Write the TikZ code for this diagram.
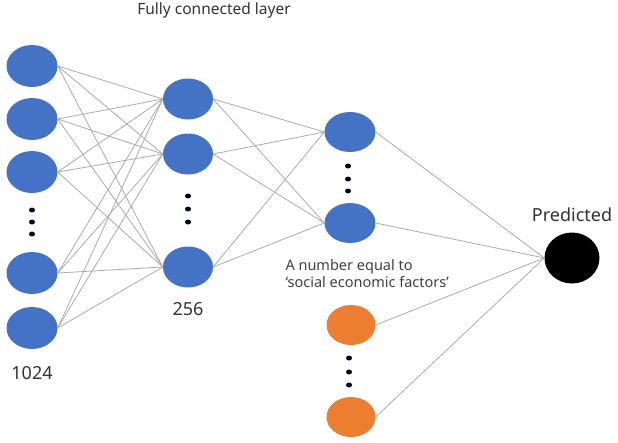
\documentclass[tikz,border=0pt]{standalone}
\usepackage{fontspec}
\setmainfont{Noto Sans}
\usetikzlibrary{shapes.geometric}
\definecolor{nblue}{HTML}{4472C4}
\definecolor{norange}{HTML}{ED7D31}
\definecolor{wire}{HTML}{ABABAB}
\begin{document}
\begin{tikzpicture}[x=1pt,y=-1pt,
  neuron/.style={ellipse,fill=nblue,draw=none,minimum width=51pt,minimum height=42pt,inner sep=0pt},
  oneuron/.style={neuron,fill=norange},
  outneuron/.style={ellipse,fill=black,minimum width=55pt,minimum height=51pt,inner sep=0pt},
  dotmark/.style={ellipse,fill=black!85!blue,minimum width=6pt,minimum height=5pt,inner sep=0pt},
  wireline/.style={draw=wire,line width=0.8pt},
  lbl/.style={font=\fontsize{18}{20}\selectfont,text=black!80},
  ttl/.style={font=\fontsize{15.5}{18}\selectfont,text=black!80},
  small/.style={font=\fontsize{14.5}{17}\selectfont,text=black!75,align=left}]
\useasboundingbox (0,0) rectangle (618,442);
\fill[white] (0,0) rectangle (618,442);
% layer 1
\node[neuron] (a1) at (32,66) {};
\node[neuron] (a2) at (32,119) {};
\node[neuron] (a3) at (32,172) {};
\node[neuron] (a4) at (32,273) {};
\node[neuron] (a5) at (32,328) {};
\node[dotmark] (ad1) at (32,210) {};
\node[dotmark] (ad2) at (32,222) {};
\node[dotmark] (ad3) at (32,234) {};
% layer 2
\node[neuron,minimum width=50pt,minimum height=41pt] (b1) at (188,99) {};
\node[neuron,minimum width=50pt,minimum height=41pt] (b2) at (188,154) {};
\node[neuron,minimum width=50pt,minimum height=41pt] (b3) at (188,267) {};
\node[dotmark] (bd1) at (188,196) {};
\node[dotmark] (bd2) at (188,209) {};
\node[dotmark] (bd3) at (188,222) {};
% layer 3
\node[neuron,minimum height=40pt] (c1) at (350,132) {};
\node[neuron,minimum height=40pt] (c2) at (350,223) {};
\node[dotmark] (cd1) at (348,166) {};
\node[dotmark] (cd2) at (348,179) {};
\node[dotmark] (cd3) at (348,191) {};
\node[oneuron,minimum width=49pt,minimum height=40pt] (o1) at (351,325) {};
\node[oneuron,minimum width=49pt,minimum height=40pt] (o2) at (351,417) {};
\node[dotmark] (od1) at (349,358) {};
\node[dotmark] (od2) at (349,372) {};
\node[dotmark] (od3) at (349,385) {};
% output
\node[outneuron] (p) at (572,258) {};
% wires
\foreach \i in {1,...,5}{\foreach \j in {1,2,3}{\draw[wireline] (a\i.east) -- (b\j.west);}}
\foreach \j in {1,2,3}{\foreach \k in {1,2}{\draw[wireline] (b\j.east) -- (c\k.west);}}
\foreach \k in {c1,c2,o1,o2}{\draw[wireline] (\k.east) -- (p.west);}
% labels
\node[ttl] (t) at (214,10) {Fully connected layer};
\node[lbl] (l1) at (32,373) {1024};
\node[lbl] (l2) at (188,309) {256};
\node[lbl] (lp) at (572,215) {Predicted};
\node[small,anchor=west] (ln) at (282,274) {A number equal to\\‘social economic factors’};
\end{tikzpicture}
\end{document}
